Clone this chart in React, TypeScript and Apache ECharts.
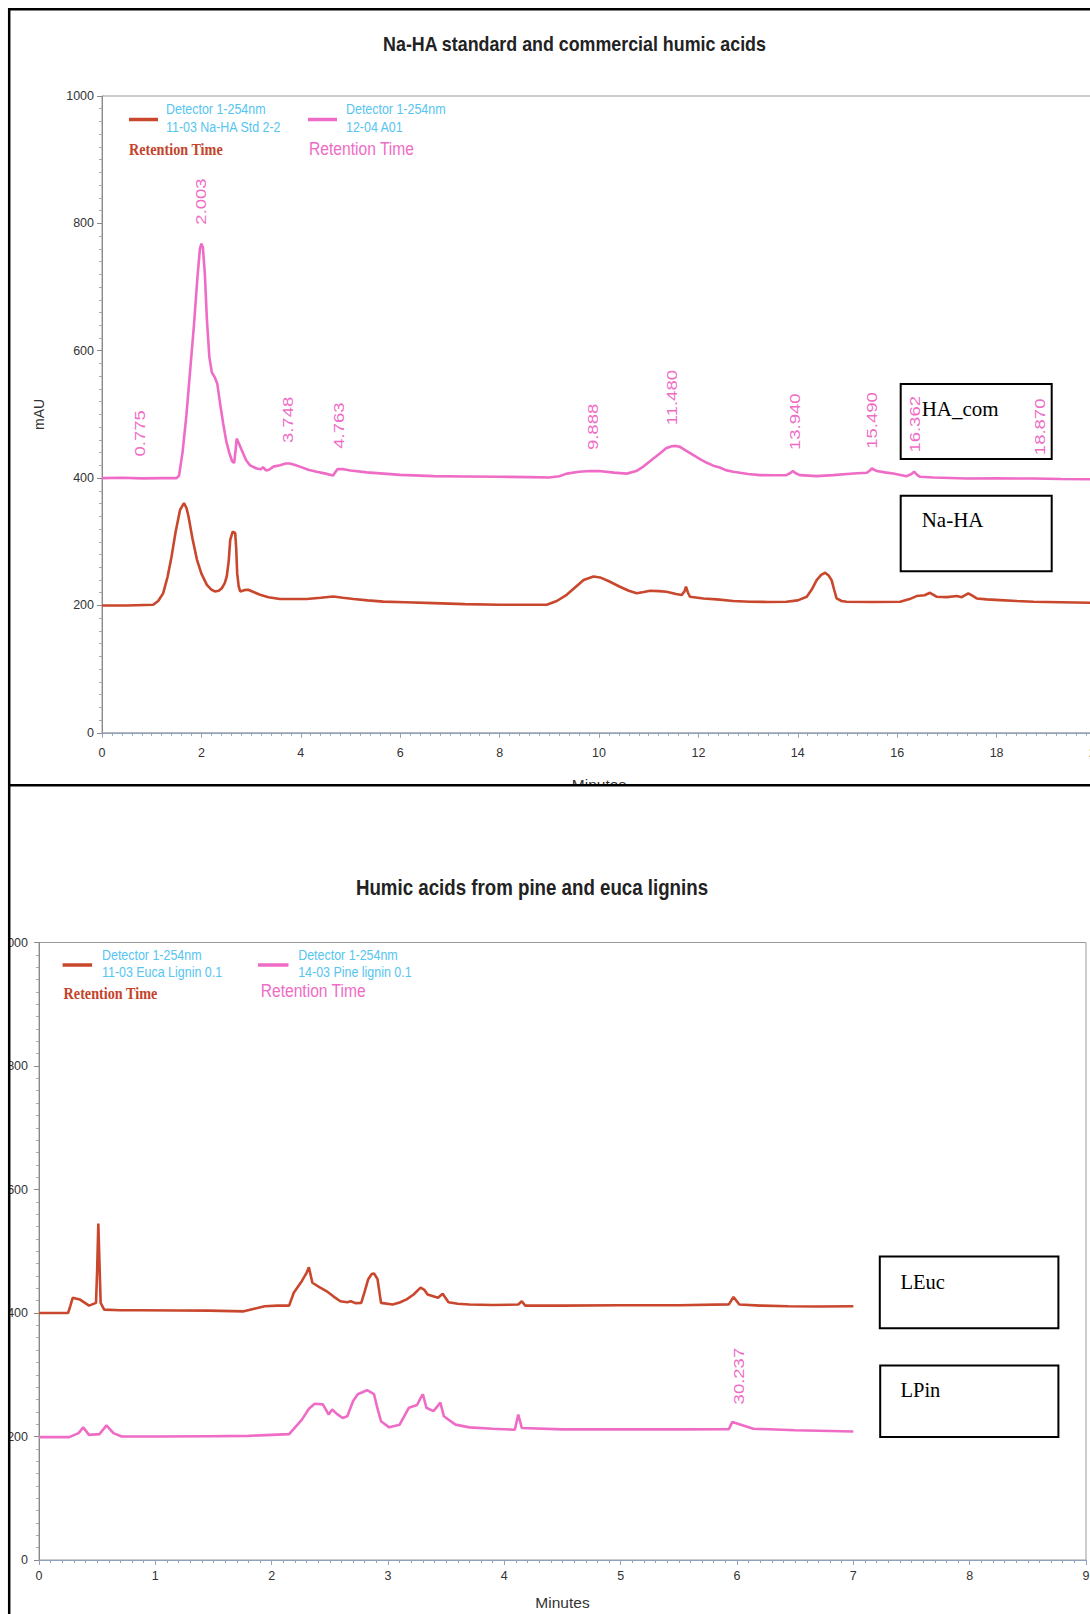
import React, { useEffect, useRef } from "react";
import * as echarts from "echarts";

// ---------- DATA ----------
// Top chart: Na-HA standard (red) and commercial HA (pink), [minutes, mAU]
const naHA: [number, number][] = [
  [0, 200], [0.5, 200], [1.03, 201], [1.13, 207], [1.23, 219], [1.32, 245], [1.4, 277], [1.48, 315],
  [1.57, 350], [1.65, 360.6], [1.7, 353], [1.74, 340], [1.82, 305], [1.91, 272], [2.0, 250], [2.11, 232.4],
  [2.2, 225], [2.27, 222], [2.35, 223], [2.41, 227], [2.47, 235], [2.51, 245.5], [2.55, 270], [2.58, 303],
  [2.63, 316], [2.68, 313.5], [2.7, 290], [2.72, 250.7], [2.75, 230], [2.78, 222], [2.86, 224], [2.94, 224.6],
  [3.05, 221], [3.18, 216.7], [3.35, 213], [3.58, 210], [3.85, 210], [4.12, 210], [4.4, 212], [4.65, 214],
  [4.85, 212], [5.06, 210], [5.35, 208], [5.66, 206], [6.1, 205], [6.67, 203.7], [7.3, 202], [8.0, 201],
  [8.5, 201], [8.95, 201], [9.15, 207], [9.35, 216.7], [9.5, 227], [9.69, 240], [9.89, 245.5], [10.02, 244],
  [10.2, 238], [10.42, 229.4], [10.6, 223], [10.76, 219], [10.9, 221], [11.03, 223], [11.2, 222.5],
  [11.36, 221.5], [11.55, 218], [11.66, 216.3], [11.72, 222], [11.75, 229.4], [11.79, 220], [11.83, 213.7],
  [12.1, 211], [12.37, 209.5], [12.7, 207], [13.04, 205.8], [13.4, 205.5], [13.77, 205.8], [14.0, 208],
  [14.18, 213.7], [14.28, 225], [14.38, 239.8], [14.47, 248], [14.55, 251.3], [14.62, 247], [14.68, 239.8],
  [14.73, 225], [14.78, 211], [14.88, 207], [14.98, 205.8], [15.5, 205.5], [16.06, 205.8], [16.25, 210],
  [16.39, 214.7], [16.55, 216], [16.66, 219.9], [16.79, 213.7], [17.0, 213], [17.2, 214.7], [17.3, 213],
  [17.43, 219], [17.52, 215], [17.6, 211], [17.8, 209.5], [18.07, 208.4], [18.4, 207], [18.74, 205.8],
  [19.3, 205], [20, 204],
];
const haCom: [number, number][] = [
  [0, 400], [0.4, 400.5], [0.8, 399.5], [1.2, 400], [1.5, 400], [1.55, 404], [1.62, 440], [1.7, 500],
  [1.78, 575], [1.85, 640], [1.92, 715], [1.97, 760], [2.0, 768], [2.03, 762], [2.07, 720], [2.11, 650],
  [2.16, 590], [2.21, 566], [2.27, 558], [2.32, 548], [2.38, 515], [2.44, 485], [2.5, 458], [2.56, 440],
  [2.62, 426], [2.66, 424], [2.69, 445], [2.71, 462], [2.75, 455], [2.81, 444], [2.9, 428], [2.98, 420],
  [3.11, 415], [3.2, 414], [3.24, 417], [3.3, 412], [3.36, 413], [3.45, 418], [3.58, 420], [3.7, 423],
  [3.78, 423], [3.9, 420], [3.98, 418], [4.15, 413], [4.32, 410], [4.5, 407], [4.65, 404], [4.7, 410],
  [4.74, 414], [4.86, 414], [5.0, 412], [5.33, 409], [6.0, 405], [6.67, 403], [7.3, 402.5], [8.0, 402],
  [8.6, 401.5], [9.0, 401], [9.2, 403], [9.35, 407], [9.6, 410], [9.82, 411], [10.0, 411], [10.3, 408.5],
  [10.56, 407], [10.75, 411], [10.89, 418], [11.05, 428], [11.23, 439], [11.35, 447], [11.46, 450],
  [11.55, 450.5], [11.63, 449], [11.75, 443], [11.9, 436], [12.05, 429], [12.17, 424], [12.3, 419.5],
  [12.43, 416.7], [12.55, 412.5], [12.7, 410], [13.0, 406.5], [13.24, 404.7], [13.5, 404.5], [13.77, 404.7],
  [13.85, 408], [13.9, 411], [13.95, 408], [14.04, 404.7], [14.38, 403], [14.71, 404.7], [15.12, 407.3],
  [15.39, 408.3], [15.45, 412], [15.49, 415], [15.59, 411], [15.75, 409], [15.92, 407.3], [16.19, 403],
  [16.28, 406], [16.34, 410], [16.4, 405], [16.46, 402], [16.73, 401], [17.4, 399.4], [18.0, 399.5],
  [18.74, 399.4], [19.3, 398.5], [20, 398],
];
const topPeakTimes = [0.775, 2.003, 3.748, 4.763, 9.888, 11.48, 13.94, 15.49, 16.362, 18.87];
const topPeakText = ["0.775", "2.003", "3.748", "4.763", "9.888", "11.480", "13.940", "15.490", "16.362", "18.870"];
const topPeakLabelBase = [434, 798, 455, 446, 444, 483, 444, 446, 440, 436];

// Bottom chart: Euca lignin (red) and Pine lignin (pink)
const lEuc: [number, number][] = [
  [0, 400], [0.25, 400], [0.27, 412], [0.29, 424.7], [0.35, 422], [0.43, 412], [0.49, 416.4], [0.5, 470],
  [0.51, 545], [0.52, 480], [0.53, 416.4], [0.56, 405.5], [0.7, 404.5], [0.86, 404.4], [1.2, 404],
  [1.46, 403.8], [1.76, 402.7], [1.85, 407], [1.94, 411], [2.05, 412], [2.15, 412], [2.19, 432.9],
  [2.26, 452], [2.3, 465], [2.32, 474], [2.35, 449], [2.41, 442], [2.47, 435.6], [2.53, 427], [2.59, 419],
  [2.65, 417.5], [2.68, 419], [2.72, 416], [2.77, 416.4], [2.8, 435], [2.83, 454.8], [2.86, 463],
  [2.88, 464], [2.91, 454.8], [2.94, 416.4], [3.04, 413.7], [3.1, 417], [3.16, 422], [3.22, 430],
  [3.28, 441], [3.31, 438], [3.34, 430], [3.43, 424.7], [3.47, 431], [3.52, 417.5], [3.6, 415],
  [3.7, 413.7], [3.9, 413], [4.12, 413.7], [4.15, 419], [4.18, 412], [4.5, 412], [5.0, 412.5], [5.5, 412.5],
  [5.93, 414], [5.97, 426], [6.02, 413.7], [6.2, 412], [6.44, 411], [6.7, 410.5], [7.0, 411],
];
const lPin: [number, number][] = [
  [0, 199], [0.26, 199], [0.34, 205.5], [0.38, 214.8], [0.43, 202.7], [0.52, 203.8], [0.58, 218],
  [0.64, 205.5], [0.71, 200], [1.0, 200], [1.46, 200.5], [1.8, 201], [2.15, 203.8], [2.26, 227.4],
  [2.32, 245], [2.37, 253], [2.44, 252], [2.49, 235.6], [2.52, 243.8], [2.56, 236.7], [2.61, 230],
  [2.65, 232.9], [2.7, 257.5], [2.74, 268.5], [2.82, 275], [2.88, 268.5], [2.91, 245], [2.94, 224.7],
  [3.01, 214.8], [3.1, 219.2], [3.18, 246.6], [3.25, 251], [3.28, 262], [3.3, 268.5], [3.33, 246.6],
  [3.39, 241], [3.43, 250], [3.45, 254.8], [3.48, 232.9], [3.58, 219.2], [3.7, 214.8], [3.9, 212.5],
  [4.09, 211], [4.12, 235.6], [4.15, 213.7], [4.5, 211.5], [5.0, 211.5], [5.5, 211.5], [5.93, 212],
  [5.96, 223.6], [6.02, 220], [6.14, 212.6], [6.5, 210], [7.0, 208],
];
const botPeakTimes = [6.02];
const botPeakText = ["30.237"];
const botPeakLabelBase = [252];

// ---------- STYLE ----------
const RED = "#c9472d";
const PINK = "#ef6cc6";
const CYAN = "#56c5ef";
const AXIS = "#8a8a8a";
const AXIS_X = "#8fa2bd";
const SANS = "'Liberation Sans', Arial, sans-serif";
const SERIF = "'Liberation Serif', 'Times New Roman', serif";

const Z = 100;

function txt(text: string, x: number, y: number, o: any = {}) {
  const { scaleX, align, fill, fontSize, fontFamily, fontWeight } = o;
  return {
    type: "text",
    x,
    y,
    z: Z,
    scaleX: scaleX ?? 1,
    silent: true,
    style: {
      text,
      fill: fill ?? "#222",
      fontSize: fontSize ?? 14,
      fontFamily: fontFamily ?? SANS,
      fontWeight: fontWeight ?? "normal",
      align: align ?? "left",
      verticalAlign: "middle",
    },
  };
}
function hline(x1: number, y1: number, x2: number, y2: number, stroke: string, lineWidth: number) {
  return { type: "line", z: Z, silent: true, shape: { x1, y1, x2, y2 }, style: { stroke, lineWidth } };
}
function box(x: number, y: number, w: number, h: number) {
  return {
    type: "rect",
    z: Z,
    silent: true,
    shape: { x, y, width: w, height: h },
    style: { fill: "transparent", stroke: "#000", lineWidth: 2 },
  };
}

const plainNum = (v: number) => String(v);

function xAxisCfg(gridIndex: number, max: number, interval: number, margin: number, nameGap: number) {
  return {
    gridIndex,
    type: "value",
    min: 0,
    max,
    interval,
    splitLine: { show: false },
    axisLine: { show: true, onZero: false, lineStyle: { color: AXIS_X, width: 1 } },
    axisTick: { show: true, length: 5, lineStyle: { color: AXIS_X } },
    minorTick: { show: true, splitNumber: 10, length: 3, lineStyle: { color: AXIS_X } },
    axisLabel: { margin, color: "#333", fontFamily: SANS, fontSize: 12.5, formatter: plainNum },
    name: "Minutes",
    nameLocation: "middle",
    nameGap,
    nameTextStyle: { color: "#333", fontFamily: SANS, fontSize: 15.5 },
  };
}
function yAxisCfg(gridIndex: number, name: string, margin: number) {
  return {
    gridIndex,
    type: "value",
    min: 0,
    max: 1000,
    interval: 200,
    splitLine: { show: false },
    axisLine: { show: true, onZero: false, lineStyle: { color: AXIS, width: 1 } },
    axisTick: { show: true, length: 5, lineStyle: { color: AXIS } },
    minorTick: { show: true, splitNumber: 10, length: 3, lineStyle: { color: "#a8a8b8" } },
    axisLabel: { margin, color: "#333", fontFamily: SANS, fontSize: 12.5, formatter: plainNum },
    name,
    nameLocation: "middle",
    nameGap: 56,
    nameTextStyle: { color: "#333", fontFamily: SANS, fontSize: 14 },
  };
}
function lineSeries(name: string, data: [number, number][], color: string, idx: number) {
  return {
    name,
    type: "line",
    xAxisIndex: idx,
    yAxisIndex: idx,
    data,
    showSymbol: false,
    symbol: "none",
    smooth: false,
    lineStyle: { color, width: 2.6 },
    itemStyle: { color },
    z: 3,
    silent: true,
  };
}

export default function App() {
  const ref = useRef<HTMLDivElement>(null);
  useEffect(() => {
    document.body.style.margin = "0";
    const chart = echarts.init(ref.current!, null, { renderer: "svg" });
    chart.setOption({
      animation: false,
      backgroundColor: "#ffffff",
      grid: [
        {
          left: 102, top: 96, width: 994, height: 636.8, show: true, borderColor: "#9a9a9a", borderWidth: 1,
          containLabel: false, outerBoundsMode: "none",
        },
        {
          left: 39, top: 942.5, width: 1047, height: 617.5, show: true, borderColor: "#9a9a9a", borderWidth: 1,
          containLabel: false, outerBoundsMode: "none",
        },
      ],
      xAxis: [xAxisCfg(0, 20, 2, 14, 44), xAxisCfg(1, 9, 1, 9, 34)],
      yAxis: [yAxisCfg(0, "mAU", 8), yAxisCfg(1, "", 11)],
      series: [
        lineSeries("11-03 Na-HA Std 2-2", naHA, RED, 0),
        lineSeries("12-04 A01", haCom, PINK, 0),
        lineSeries("11-03 Euca Lignin 0.1", lEuc, RED, 1),
        lineSeries("14-03 Pine lignin 0.1", lPin, PINK, 1),
      ],
    });

    const peakEl = (grid: number, t: number, v: number, text: string) => {
      const p = chart.convertToPixel({ gridIndex: grid } as any, [t, v]) as number[];
      return {
        type: "text",
        x: p[0],
        y: p[1],
        rotation: Math.PI / 2,
        scaleY: 0.8,
        z: Z,
        silent: true,
        style: { text, fill: PINK, fontFamily: SANS, fontSize: 18.5, align: "left", verticalAlign: "middle" },
      };
    };
    const peaks = [
      ...topPeakTimes.map((t, i) => peakEl(0, t, topPeakLabelBase[i], topPeakText[i])),
      ...botPeakTimes.map((t, i) => peakEl(1, t, botPeakLabelBase[i], botPeakText[i])),
    ];

    const legendText = { fill: CYAN, fontSize: 15, scaleX: 0.83, fontFamily: SANS };
    const graphic: any[] = [
      // mask below top panel (clips "Minutes") and left of bottom panel (clips tick labels)
      { type: "rect", z: Z - 1, silent: true, shape: { x: 0, y: 786, width: 1090, height: 22 }, style: { fill: "#fff" } },
      { type: "rect", z: Z - 1, silent: true, shape: { x: 0, y: 786, width: 9, height: 830 }, style: { fill: "#fff" } },
      // panel borders
      hline(8, 9.2, 1090, 9.2, "#000", 2.5),
      hline(9.2, 8, 9.2, 1614, "#000", 2.5),
      hline(8, 785.2, 1090, 785.2, "#000", 2.5),
      // titles
      txt("Na-HA standard and commercial humic acids", 574.5, 43, {
        fontWeight: "bold", fontSize: 21, scaleX: 0.85, align: "center",
      }),
      txt("Humic acids from pine and euca lignins", 532, 887, {
        fontWeight: "bold", fontSize: 22, scaleX: 0.85, align: "center",
      }),
      // top legend
      hline(129, 119.5, 158, 119.5, RED, 3.5),
      txt("Detector 1-254nm", 166, 109, legendText),
      txt("11-03 Na-HA Std 2-2", 166, 127.5, legendText),
      txt("Retention Time", 129, 149.5, { fill: "#c4432a", fontFamily: SERIF, fontWeight: "bold", fontSize: 17, scaleX: 0.835 }),
      hline(308, 119.5, 337, 119.5, PINK, 3.5),
      txt("Detector 1-254nm", 346, 109, legendText),
      txt("12-04 A01", 346, 127.5, legendText),
      txt("Retention Time", 309, 149, { fill: PINK, fontFamily: SANS, fontSize: 18.5, scaleX: 0.845 }),
      // bottom legend
      hline(62.6, 965, 92.1, 965, RED, 3.5),
      txt("Detector 1-254nm", 102, 955, legendText),
      txt("11-03 Euca Lignin 0.1", 102, 972, legendText),
      txt("Retention Time", 63.6, 993.3, { fill: "#c4432a", fontFamily: SERIF, fontWeight: "bold", fontSize: 17, scaleX: 0.835 }),
      hline(258, 965, 288.5, 965, PINK, 3.5),
      txt("Detector 1-254nm", 298.2, 955, legendText),
      txt("14-03 Pine lignin 0.1", 298.2, 972, legendText),
      txt("Retention Time", 260.7, 990.7, { fill: PINK, fontFamily: SANS, fontSize: 18.5, scaleX: 0.845 }),
      // annotation boxes
      box(900.7, 384, 151, 75),
      txt("HA_com", 921.7, 409, { fontFamily: SERIF, fontSize: 21, fill: "#000" }),
      box(900.7, 495.7, 151, 75.6),
      txt("Na-HA", 921.7, 520.3, { fontFamily: SERIF, fontSize: 21, fill: "#000" }),
      box(879.8, 1256.5, 178.6, 71.8),
      txt("LEuc", 900.5, 1281.5, { fontFamily: SERIF, fontSize: 20.5, fill: "#000" }),
      box(880.2, 1365.5, 178.2, 71.4),
      txt("LPin", 900.5, 1390, { fontFamily: SERIF, fontSize: 20.5, fill: "#000" }),
      ...peaks,
    ];
    chart.setOption({ graphic });
    return () => chart.dispose();
  }, []);
  return <div ref={ref} style={{ width: 1090, height: 1614, overflow: "hidden", background: "#fff" }} />;
}
